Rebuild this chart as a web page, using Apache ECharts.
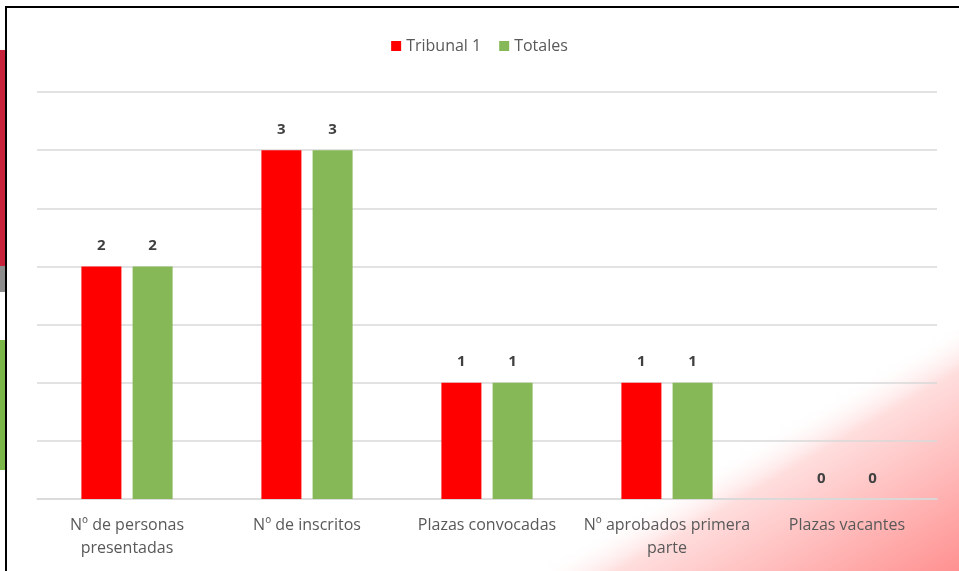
<!DOCTYPE html>
<html><head><meta charset="utf-8">
<script src="https://cdn.jsdelivr.net/npm/echarts@6/dist/echarts.min.js"></script>
<style>html,body{margin:0;padding:0;background:#fff}#c{width:959px;height:571px}</style>
</head><body><div id="c"></div>
<script>
const categories = ['Nº de personas\npresentadas', 'Nº de inscritos', 'Plazas convocadas', 'Nº aprobados primera\nparte', 'Plazas vacantes'];
const tribunal1 = [2, 3, 1, 1, 0];
const totales = [2, 3, 1, 1, 0];
const seriesNames = ['Tribunal 1', 'Totales'];

const chart = echarts.init(document.getElementById('c'));
const font = '"Open Sans", sans-serif';
const labelCfg = {show: true, position: 'top', distance: 13, color: '#404040', fontWeight: 'bold', fontSize: 15, fontFamily: font};
chart.setOption({
  animation: false,
  graphic: [
    {type: 'rect', z: -10, shape: {x: 0, y: 50, width: 6, height: 216}, style: {fill: '#c8213a'}},
    {type: 'rect', z: -10, shape: {x: 0, y: 266, width: 6, height: 26}, style: {fill: '#8c8c8c'}},
    {type: 'rect', z: -10, shape: {x: 0, y: 340, width: 6, height: 130}, style: {fill: '#7ab648'}},
    {type: 'rect', z: -9, shape: {x: 400, y: 250, width: 559, height: 321},
      style: {fill: new echarts.graphic.LinearGradient(745, 446, 853.7, 631.7, [
        {offset: 0, color: 'rgba(255,255,255,0)'},
        {offset: 0.2, color: 'rgba(255,222,222,1)'},
        {offset: 1, color: 'rgba(255,145,145,1)'}
      ], true)}},
    {type: 'rect', z: -8, shape: {x: 6, y: 7, width: 1000, height: 600}, style: {fill: 'none', stroke: '#000', lineWidth: 2}}
  ],
  legend: {
    data: seriesNames, top: 33, left: 'center', itemWidth: 10, itemHeight: 10, itemGap: 18,
    icon: 'rect', textStyle: {color: '#595959', fontSize: 16, fontFamily: font}
  },
  grid: {left: 37, right: 22, top: 92, bottom: 72},
  xAxis: {
    type: 'category', data: categories,
    axisLine: {lineStyle: {color: '#d9d9d9', width: 1.5}},
    axisTick: {show: false},
    axisLabel: {color: '#595959', fontSize: 16, fontFamily: font, margin: 15, lineHeight: 23, interval: 0}
  },
  yAxis: {
    type: 'value', min: 0, max: 3.5, interval: 0.5,
    axisLabel: {show: false}, axisLine: {show: false}, axisTick: {show: false},
    splitLine: {lineStyle: {color: '#d9d9d9', width: 1.5}}
  },
  series: [
    {name: seriesNames[0], type: 'bar', data: tribunal1, barWidth: 40, barGap: '28%', itemStyle: {color: '#ff0000'}, label: labelCfg},
    {name: seriesNames[1], type: 'bar', data: totales, barWidth: 40, itemStyle: {color: '#86b857'}, label: labelCfg}
  ]
});
</script></body></html>
